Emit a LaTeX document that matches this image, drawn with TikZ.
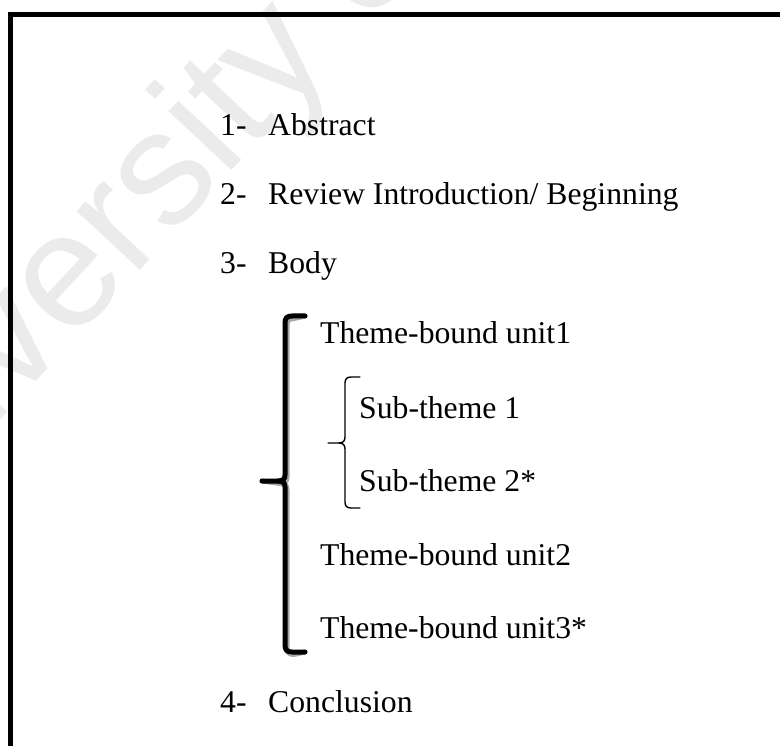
\documentclass[tikz,border=0pt]{standalone}
\usepackage{fontspec}
\setmainfont{Liberation Serif}
\newfontfamily\wmfont{Liberation Sans}
\begin{document}
\begin{tikzpicture}[x=1pt,y=-1pt,
  item/.style={anchor=base west,inner sep=0pt,font=\fontsize{31.7}{38}\selectfont},
  bigbrace/.style={line width=5pt,line cap=round,line join=round},
  bigshadow/.style={bigbrace,draw=black!35},
  smallbrace/.style={line width=1.4pt,line cap=round,line join=round}]
\useasboundingbox (0,0) rectangle (780,746);
\clip (0,0) rectangle (780,746);
\fill[white] (0,0) rectangle (780,746);

% faint watermark behind everything
\node[anchor=base west,inner sep=0pt,rotate=47,text=black!8,
      font=\wmfont\fontsize{163}{163}\selectfont] (wm) at (-152,583) {University of};

% outer frame (left and top edges)
\coordinate (fbl) at (10.5,746);
\coordinate (ftl) at (10.5,14.5);
\coordinate (ftr) at (780,14.5);
\draw[line width=5pt] (fbl) -- (ftl) -- (ftr);

% numbered items
\node[item] (n1) at (220,136) {1-};
\node[item] (t1) at (268,136) {Abstract};
\node[item] (n2) at (220,205) {2-};
\node[item] (t2) at (268,205) {Review Introduction/ Beginning};
\node[item] (n3) at (220,274) {3-};
\node[item] (t3) at (268,274) {Body};

% theme-bound units
\node[item] (u1) at (320,344) {Theme-bound unit1};
\node[item] (s1) at (359,418) {Sub-theme 1};
\node[item] (s2) at (359,491) {Sub-theme 2*};
\node[item] (u2) at (320,565) {Theme-bound unit2};
\node[item] (u3) at (320,638) {Theme-bound unit3*};

\node[item] (n4) at (220,712) {4-};
\node[item] (t4) at (268,712) {Conclusion};

% large bracket grouping the units, with a soft drop shadow
\coordinate (bt) at (305,316);
\coordinate (bb) at (305,652);
\coordinate (bn) at (262,481);
\foreach \dx/\dy/\sty in {2/2.5/bigshadow, 0/0/bigbrace}{
  \begin{scope}[shift={(\dx,\dy)}]
  \draw[\sty] (bt) -- (292,316) .. controls (287,316) and (285,318) .. (285,323)
     -- (285,475) .. controls (285,479) and (283,481) .. (278,481) -- (bn);
  \draw[\sty] (278,481) .. controls (283,481) and (285,483) .. (285,487)
     -- (285,645) .. controls (285,650) and (287,652) .. (292,652) -- (bb);
  \end{scope}
}

% small brace grouping the sub-themes
\coordinate (st) at (360,377);
\coordinate (sb) at (360,508);
\coordinate (sn) at (328,443);
\draw[smallbrace] (st) -- (351,377) .. controls (347,377) and (345,379) .. (345,383)
  -- (345,437) .. controls (345,441) and (343,443) .. (339,443) -- (sn);
\draw[smallbrace] (339,443) .. controls (343,443) and (345,445) .. (345,449)
  -- (345,502) .. controls (345,506) and (347,508) .. (351,508) -- (sb);
\end{tikzpicture}
\end{document}
